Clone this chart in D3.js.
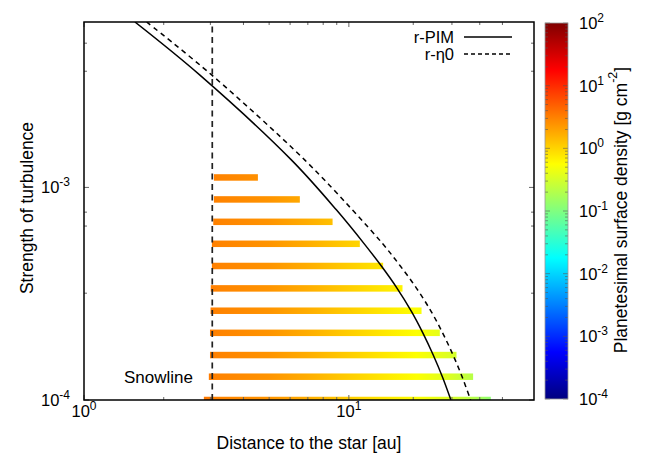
<!DOCTYPE html>
<html>
<head>
<meta charset="utf-8">
<script src="https://cdn.jsdelivr.net/npm/d3@7/dist/d3.min.js"></script>
<style>
  html, body { margin: 0; padding: 0; background: #fff; }
  svg { display: block; font-family: "Liberation Sans", Arial, Helvetica, sans-serif; }
</style>
</head>
<body>
<svg id="chart" width="651" height="454"></svg>
<script>
// ---------------- data ----------------
const xTickValues = [1, 10];
const xTickExp = ["0", "1"];
const yTickValues = [1e-4, 1e-3];
const yTickExp = ["-4", "-3"];
const cbTickValues = [1e-4, 1e-3, 1e-2, 1e-1, 1e0, 1e1, 1e2];
const cbTickExp = ["-4", "-3", "-2", "-1", "0", "1", "2"];
const xMinorTicks = [2, 3, 4, 5, 6, 7, 8, 9, 17.5, 24.5, 31.2, 38];
const yMinorTicks = [3.18e-4, 6.58e-4, 7.65e-4, 3.52e-3, 4.77e-3];

// turbulence levels of the planetesimal bands and their radial extents [au]
const alphaLevels = [1.0e-4, 1.287e-4, 1.627e-4, 2.07e-4, 2.63e-4, 3.35e-4, 4.27e-4, 5.43e-4, 6.89e-4, 8.78e-4, 1.114e-3];
const bandRMin = [2.835, 2.96, 2.99, 2.99, 3.005, 3.01, 3.04, 3.04, 3.076, 3.094, 3.094];
const bandRMax = [34.35, 29.45, 25.49, 22.05, 18.81, 15.94, 13.47, 11.0, 8.68, 6.53, 4.535];

const densityR = [2.8, 3.2, 4, 5, 7, 10, 14, 18, 24, 30, 35];
const densitySigma = [3.6, 3.0, 2.7, 2.4, 1.7, 1.1, 0.75, 0.55, 0.35, 0.2, 0.11];

// r-PIM curve
const pimR = [1.557, 2.740, 6.077, 8.987, 11.453, 13.266, 15.19, 17.20, 19.04, 20.82, 22.56, 24.28];
const pimAlpha = [6e-3, 3.373e-3, 1.344e-3, 7.823e-4, 5.412e-4, 4.266e-4, 3.362e-4, 2.620e-4, 2.065e-4, 1.628e-4, 1.283e-4, 1e-4];
// r-eta0 curve
const etaR = [1.7245, 3.041, 6.823, 10.327, 13.452, 15.645, 17.99, 20.41, 22.61, 24.73, 26.79, 28.81];
const etaAlpha = [6e-3, 3.373e-3, 1.344e-3, 7.823e-4, 5.412e-4, 4.266e-4, 3.362e-4, 2.620e-4, 2.065e-4, 1.628e-4, 1.283e-4, 1e-4];

const snowlineR = 3.05;

// ---------------- layout ----------------
const plot = { left: 84, right: 534, top: 22, bottom: 400 };
const cb = { left: 545, right: 568, top: 23, bottom: 399 };

const svg = d3.select("#chart");

const x = d3.scaleLog().domain([1, 50]).range([plot.left, plot.right]);
const y = d3.scaleLog().domain([1e-4, 6e-3]).range([plot.bottom, plot.top]);
const cbScale = d3.scaleLog().domain([1e-4, 1e2]).range([cb.bottom, cb.top]);

// jet colormap
const jet = d3.scaleLinear()
  .domain([0, 0.125, 0.375, 0.625, 0.875, 1])
  .range(["#000080", "#0000ff", "#00ffff", "#ffff00", "#ff0000", "#800000"])
  .interpolate(d3.interpolateRgb)
  .clamp(true);
const sigmaColor = s => jet((Math.log10(s) + 4) / 6);

const defs = svg.append("defs");
defs.append("clipPath").attr("id", "clip")
  .append("rect").attr("x", plot.left).attr("y", plot.top)
  .attr("width", plot.right - plot.left).attr("height", plot.bottom - plot.top);

// band gradient (user space, shared by all bands)
const x0 = x(densityR[0]), x1 = x(densityR[densityR.length - 1]);
const bg = defs.append("linearGradient").attr("id", "bandGrad")
  .attr("gradientUnits", "userSpaceOnUse")
  .attr("x1", x0).attr("x2", x1).attr("y1", 0).attr("y2", 0);
densityR.forEach((r, i) => {
  bg.append("stop").attr("offset", (x(r) - x0) / (x1 - x0)).attr("stop-color", sigmaColor(densitySigma[i]));
});

// colorbar gradient
const cg = defs.append("linearGradient").attr("id", "cbGrad")
  .attr("x1", 0).attr("x2", 0).attr("y1", 1).attr("y2", 0);
d3.range(0, 1.0001, 0.025).forEach(t => {
  cg.append("stop").attr("offset", t).attr("stop-color", jet(t));
});

// ---------------- bands ----------------
const bandH = 6.5;
svg.append("g").attr("clip-path", "url(#clip)")
  .selectAll("rect").data(alphaLevels).join("rect")
  .attr("x", (d, i) => x(bandRMin[i]))
  .attr("width", (d, i) => x(bandRMax[i]) - x(bandRMin[i]))
  .attr("y", d => y(d) - bandH / 2)
  .attr("height", bandH)
  .attr("fill", "url(#bandGrad)");

// ---------------- lines ----------------
const lineGen = (rs, as) => d3.line()
  .x((d, i) => x(rs[i])).y((d, i) => y(as[i]))
  .curve(d3.curveCatmullRom.alpha(0.5))(rs);

const lg = svg.append("g").attr("clip-path", "url(#clip)");
lg.append("path").attr("d", lineGen(pimR, pimAlpha))
  .attr("fill", "none").attr("stroke", "#000").attr("stroke-width", 1.5);
lg.append("path").attr("d", lineGen(etaR, etaAlpha))
  .attr("fill", "none").attr("stroke", "#000").attr("stroke-width", 1.5)
  .attr("stroke-dasharray", "5,4");
// snowline
lg.append("line")
  .attr("x1", x(snowlineR)).attr("x2", x(snowlineR))
  .attr("y1", plot.bottom).attr("y2", plot.top)
  .attr("stroke", "#222").attr("stroke-width", 1.7)
  .attr("stroke-dasharray", "6,4.5");

svg.append("text").attr("x", 124).attr("y", 383)
  .attr("font-size", 17).attr("fill", "#000").text("Snowline");

// ---------------- ticks ----------------
const tickG = svg.append("g").attr("stroke", "#666").attr("stroke-width", 1);
xTickValues.concat(xMinorTicks).forEach(v => {
  const major = xTickValues.includes(v);
  const len = major ? 5 : 3;
  const px = x(v);
  tickG.append("line").attr("x1", px).attr("x2", px).attr("y1", plot.bottom).attr("y2", plot.bottom - len);
  tickG.append("line").attr("x1", px).attr("x2", px).attr("y1", plot.top).attr("y2", plot.top + len);
});
yTickValues.concat(yMinorTicks).forEach(v => {
  const major = yTickValues.includes(v);
  const len = major ? 5 : 3;
  const py = y(v);
  tickG.append("line").attr("x1", plot.left).attr("x2", plot.left + len).attr("y1", py).attr("y2", py);
  tickG.append("line").attr("x1", plot.right).attr("x2", plot.right - len).attr("y1", py).attr("y2", py);
});

// frame
svg.append("rect").attr("x", plot.left).attr("y", plot.top)
  .attr("width", plot.right - plot.left).attr("height", plot.bottom - plot.top)
  .attr("fill", "none").attr("stroke", "#000").attr("stroke-width", 1.5);

// tick labels
const fs = 16.5, sfs = 12;
xTickValues.forEach((v, i) => {
  const t = svg.append("text").attr("x", x(v)).attr("y", 417)
    .attr("text-anchor", "middle").attr("font-size", fs);
  t.append("tspan").text("10");
  t.append("tspan").attr("dy", -7).attr("font-size", sfs).text(xTickExp[i]);
});
yTickValues.forEach((v, i) => {
  const t = svg.append("text").attr("x", 70).attr("y", y(v) + 6)
    .attr("text-anchor", "end").attr("font-size", fs);
  t.append("tspan").text("10");
  t.append("tspan").attr("dy", -7).attr("font-size", sfs).text(yTickExp[i]);
});

// axis labels
svg.append("text").attr("x", (plot.left + plot.right) / 2).attr("y", 449)
  .attr("text-anchor", "middle").attr("font-size", 17.5).text("Distance to the star [au]");
svg.append("text").attr("transform", `translate(33,${(plot.top + plot.bottom) / 2 - 3}) rotate(-90)`)
  .attr("text-anchor", "middle").attr("font-size", 17.5).text("Strength of turbulence");

// ---------------- legend ----------------
const legendItems = [
  { label: "r-PIM", dash: null, y: 37 },
  { label: "r-\u03b70", dash: "4,3", y: 54 }
];
legendItems.forEach(it => {
  svg.append("text").attr("x", 454).attr("y", it.y + 5.5)
    .attr("text-anchor", "end").attr("font-size", 16.5).text(it.label);
  svg.append("line").attr("x1", 464).attr("x2", 512).attr("y1", it.y).attr("y2", it.y)
    .attr("stroke", "#000").attr("stroke-width", 1.3)
    .attr("stroke-dasharray", it.dash);
});

// ---------------- colorbar ----------------
svg.append("rect").attr("x", cb.left).attr("y", cb.top)
  .attr("width", cb.right - cb.left).attr("height", cb.bottom - cb.top)
  .attr("fill", "url(#cbGrad)");
const cbTicksG = svg.append("g").attr("stroke", "#555").attr("stroke-width", 0.8).attr("opacity", 0.7);
cbTickValues.forEach((v, i) => {
  if (i < cbTickValues.length - 1) {
    d3.range(2, 10).forEach(m => {
      const py = cbScale(v * m);
      cbTicksG.append("line").attr("x1", cb.left).attr("x2", cb.left + 3).attr("y1", py).attr("y2", py);
      cbTicksG.append("line").attr("x1", cb.right).attr("x2", cb.right - 3).attr("y1", py).attr("y2", py);
    });
  }
  const py = cbScale(v);
  cbTicksG.append("line").attr("x1", cb.left).attr("x2", cb.left + 5).attr("y1", py).attr("y2", py);
  cbTicksG.append("line").attr("x1", cb.right).attr("x2", cb.right - 5).attr("y1", py).attr("y2", py);
});
svg.append("rect").attr("x", cb.left).attr("y", cb.top)
  .attr("width", cb.right - cb.left).attr("height", cb.bottom - cb.top)
  .attr("fill", "none").attr("stroke", "#999").attr("stroke-width", 0.8);

cbTickValues.forEach((v, i) => {
  const t = svg.append("text").attr("x", 579).attr("y", cbScale(v) + 6)
    .attr("font-size", fs);
  t.append("tspan").text("10");
  t.append("tspan").attr("dy", -7).attr("font-size", sfs).text(cbTickExp[i]);
});

const cbl = svg.append("text")
  .attr("transform", `translate(627,${(cb.top + cb.bottom) / 2 - 1}) rotate(-90)`)
  .attr("text-anchor", "middle").attr("font-size", 17.5);
cbl.append("tspan").text("Planetesimal surface density [g cm");
cbl.append("tspan").attr("dy", -10).attr("font-size", 12.5).text("-2");
cbl.append("tspan").attr("dy", 10).text("]");
</script>
</body>
</html>
